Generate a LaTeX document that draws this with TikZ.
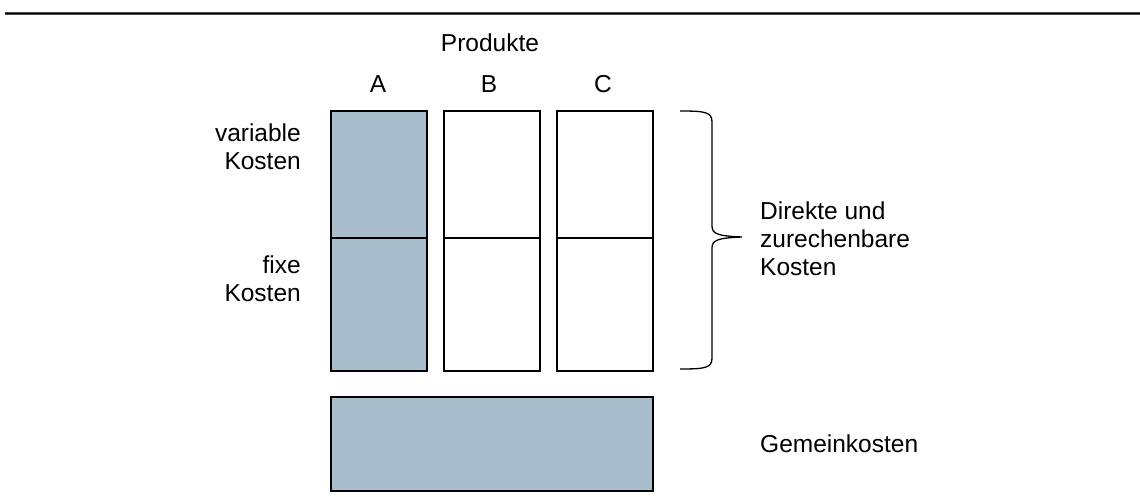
\documentclass[tikz,border=0pt]{standalone}
\usepackage{fontspec}
\setmainfont{Liberation Sans}
\definecolor{costblue}{RGB}{169,190,204}
\tikzset{
  x=1pt, y=-1pt,
  txt/.style={font=\fontsize{24.5}{27.8}\selectfont, inner sep=0pt},
  lbl/.style={txt, anchor=base},
  rlbl/.style={txt, align=right, anchor=east},
  llbl/.style={txt, align=left, anchor=west},
  costbox/.style={draw=black, line width=1.6pt, inner sep=0pt, minimum width=96pt},
  shaded/.style={costbox, fill=costblue},
  plain/.style={costbox, fill=white},
}
\begin{document}
\begin{tikzpicture}
\useasboundingbox (0,0) rectangle (1140,497);
% header rule
\coordinate (ruleL) at (5,13.5);
\coordinate (ruleR) at (1140,13.5);
\draw[line width=2.4pt, black!70] (ruleL) -- (ruleR);
\draw[line width=1pt, black] (ruleL) -- (ruleR);

% product columns
\node[shaded, minimum height=127pt, anchor=north west] (Av) at (330,110) {};
\node[shaded, minimum height=133pt, anchor=north west] (Af) at (330,237) {};
\node[plain, minimum height=127pt, anchor=north west] (Bv) at (443,110) {};
\node[plain, minimum height=133pt, anchor=north west] (Bf) at (443,237) {};
\node[plain, minimum height=127pt, anchor=north west] (Cv) at (556,110) {};
\node[plain, minimum height=133pt, anchor=north west] (Cf) at (556,237) {};

% overhead block
\node[shaded, minimum width=322pt, minimum height=94pt, anchor=north west] (gk) at (330,396) {};

% headings
\node[lbl] (prod) at (490,52) {Produkte};
\node[lbl] (la) at (378,93) {A};
\node[lbl] (lb) at (489,93) {B};
\node[lbl] (lc) at (603,93) {C};

% row labels
\node[rlbl] (var) at (301,147) {variable\\Kosten};
\node[rlbl] (fix) at (301,278.5) {fixe\\Kosten};

% brace
\coordinate (brT) at (680,111);
\coordinate (brB) at (680,369);
\draw[line width=1.3pt] (brT) .. controls (705,111) and (712,112) .. (712,122)
  -- (712,226) .. controls (712,234) and (718,236) .. (742,237)
  .. controls (718,238) and (712,240) .. (712,248)
  -- (712,358) .. controls (712,368) and (705,369) .. (brB);

\node[llbl] (direct) at (760,239) {Direkte und\\zurechenbare\\Kosten};
\node[lbl, anchor=base west] (gemein) at (760,452) {Gemeinkosten};
\end{tikzpicture}
\end{document}
